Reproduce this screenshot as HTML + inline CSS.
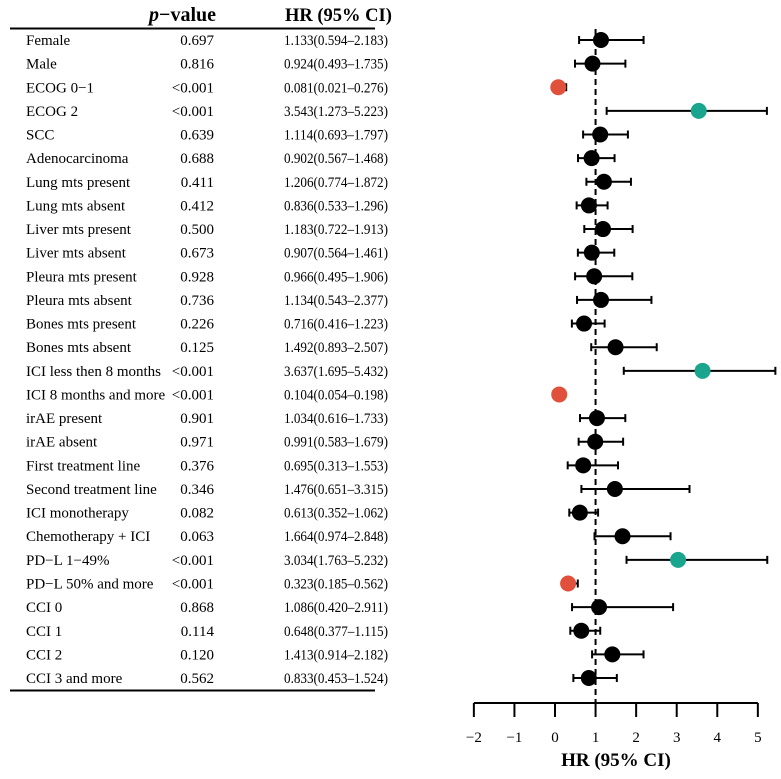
<!DOCTYPE html>
<html><head><meta charset="utf-8"><style>
body{margin:0;background:#fff;}
svg text{font-family:"Liberation Serif",serif;}
</style></head><body>
<svg id="c" width="781" height="774" xmlns="http://www.w3.org/2000/svg">
<text x="216" y="21" text-anchor="end" font-size="20" font-weight="bold"><tspan font-style="italic">p</tspan>−value</text>
<text x="285" y="21" font-size="18.5" font-weight="bold">HR (95% CI)</text>
<line x1="10" x2="375" y1="28.5" y2="28.5" stroke="#000" stroke-width="2"/>
<line x1="10" x2="375" y1="690.5" y2="690.5" stroke="#000" stroke-width="2"/>
<g id="rows"></g>
<g id="plot"></g>
<text x="616" y="766" text-anchor="middle" font-size="19" font-weight="bold">HR (95% CI)</text>
</svg>
<script>
const labels=["Female","Male","ECOG 0−1","ECOG 2","SCC","Adenocarcinoma","Lung mts present","Lung mts absent","Liver mts present","Liver mts absent","Pleura mts present","Pleura mts absent","Bones mts present","Bones mts absent","ICI less then 8 months","ICI 8 months and more","irAE present","irAE absent","First treatment line","Second treatment line","ICI monotherapy","Chemotherapy + ICI","PD−L 1−49%","PD−L 50% and more","CCI 0","CCI 1","CCI 2","CCI 3 and more"];
const pvals=["0.697","0.816","<0.001","<0.001","0.639","0.688","0.411","0.412","0.500","0.673","0.928","0.736","0.226","0.125","<0.001","<0.001","0.901","0.971","0.376","0.346","0.082","0.063","<0.001","<0.001","0.868","0.114","0.120","0.562"];
const hr=[1.133,0.924,0.081,3.543,1.114,0.902,1.206,0.836,1.183,0.907,0.966,1.134,0.716,1.492,3.637,0.104,1.034,0.991,0.695,1.476,0.613,1.664,3.034,0.323,1.086,0.648,1.413,0.833];
const lo=[0.594,0.493,0.021,1.273,0.693,0.567,0.774,0.533,0.722,0.564,0.495,0.543,0.416,0.893,1.695,0.054,0.616,0.583,0.313,0.651,0.352,0.974,1.763,0.185,0.420,0.377,0.914,0.453];
const hi=[2.183,1.735,0.276,5.223,1.797,1.468,1.872,1.296,1.913,1.461,1.906,2.377,1.223,2.507,5.432,0.198,1.733,1.679,1.553,3.315,1.062,2.848,5.232,0.562,2.911,1.115,2.182,1.524];
const ticks=[-2,-1,0,1,2,3,4,5];
const NS="http://www.w3.org/2000/svg";
const X=v=>555+v*40.57;
const Y=i=>40+i*23.63;
function mk(t,a,p){const e=document.createElementNS(NS,t);for(const k in a)e.setAttribute(k,a[k]);p.appendChild(e);return e;}
const rows=document.getElementById('rows'),plot=document.getElementById('plot');
const f=v=>v.toFixed(3);
labels.forEach((l,i)=>{
 const y=Y(i)+5;
 let t=mk('text',{x:26,y:y,'font-size':15},rows);t.textContent=l;
 
 
 t=mk('text',{x:214,y:y,'font-size':15,'text-anchor':'end'},rows);t.textContent=pvals[i];
 
 
 t=mk('text',{x:284,y:y,'font-size':14.5,textLength:104,lengthAdjust:'spacingAndGlyphs'},rows);t.textContent=f(hr[i])+"("+f(lo[i])+"–"+f(hi[i])+")";
 
 
});
let d=mk('line',{x1:X(1),x2:X(1),y1:29,y2:703,stroke:'#000','stroke-width':2,'stroke-dasharray':'6,4'},plot);


hr.forEach((h,i)=>{
 const y=Y(i);
 const g=mk('g',{},plot);
 
 
 mk('line',{x1:X(lo[i]),x2:X(hi[i]),y1:y,y2:y,stroke:'#000','stroke-width':2},g);
 mk('line',{x1:X(lo[i]),x2:X(lo[i]),y1:y-4,y2:y+4,stroke:'#000','stroke-width':2},g);
 mk('line',{x1:X(hi[i]),x2:X(hi[i]),y1:y-4,y2:y+4,stroke:'#000','stroke-width':2},g);
 const col=lo[i]>1?'#1aa58f':(hi[i]<1?'#e0503a':'#000');
 const c=mk('circle',{cx:X(h),cy:y,r:8,fill:col},g);
 
 
});
const ax=mk('line',{x1:X(-2),x2:X(5),y1:703,y2:703,stroke:'#000','stroke-width':2},plot);


ticks.forEach(t=>{
 mk('line',{x1:X(t),x2:X(t),y1:703,y2:717,stroke:'#000','stroke-width':2},plot);
 const tx=mk('text',{x:X(t),y:742,'font-size':15,'text-anchor':'middle'},plot);
 tx.textContent=t<0?"−"+(-t):String(t);
 
 
});
</script>
</body></html>
